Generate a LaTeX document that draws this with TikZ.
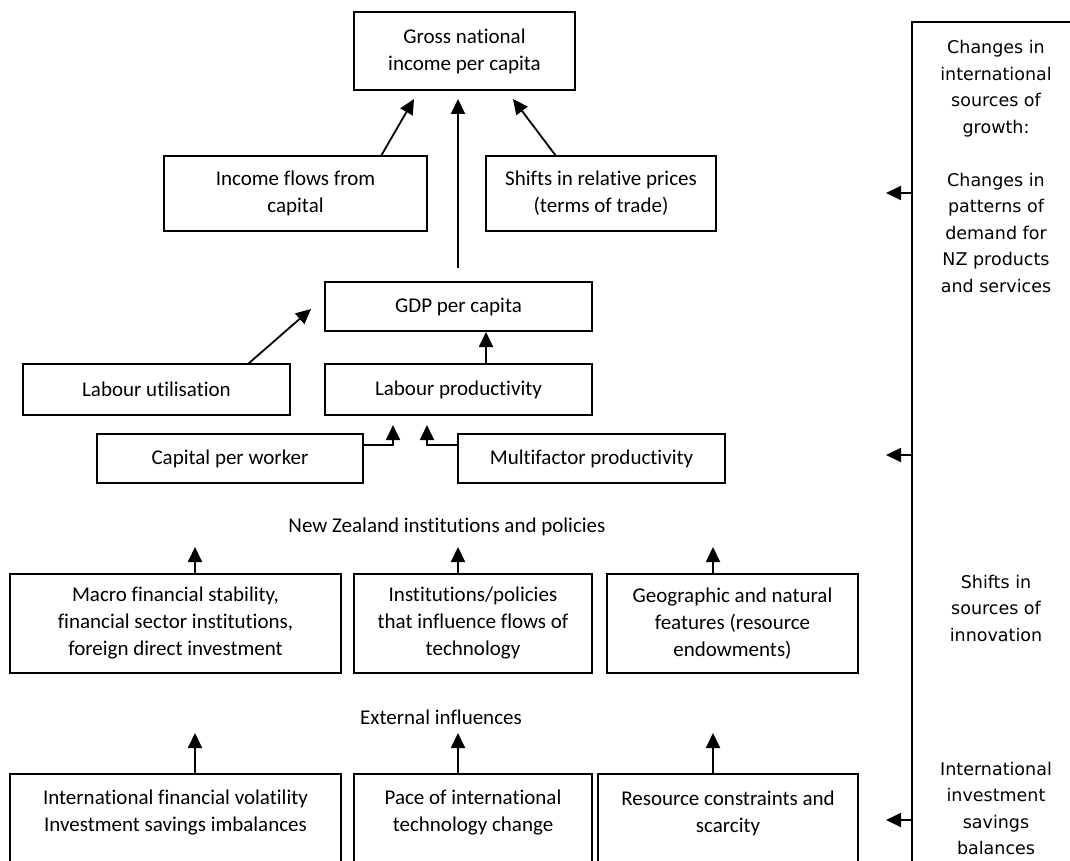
\documentclass[tikz,border=0pt]{standalone}
\usepackage{fontspec}
\setmainfont{Carlito}[Ligatures=NoCommon]
\newfontfamily\vfont{DejaVu Sans}
\usetikzlibrary{arrows.meta}
\begin{document}
\begin{tikzpicture}[x=1pt,y=-1pt,
  box/.style={draw, line width=1.8pt, align=center, inner sep=0pt, font=\fontsize{21}{27}\selectfont},
  txt/.style={align=center, inner sep=0pt, font=\fontsize{21}{27}\selectfont},
  side/.style={align=center, inner sep=0pt, font=\vfont\fontsize{17.5}{26.5}\selectfont},
  arr/.style={line width=1.8pt, -{Triangle[width=14pt,length=15pt]}}]
\useasboundingbox (0,0) rectangle (1070,861);
\clip (0,0) rectangle (1070,861);
% top level
\node[box, minimum width=221, minimum height=78] (gni) at (464.5,51) {Gross national\\income per capita};
\node[box, minimum width=263, minimum height=75] (ifc) at (295.5,193.5) {Income flows from\\capital};
\node[box, minimum width=230, minimum height=75] (sir) at (601,193.5) {Shifts in relative prices\\(terms of trade)};
\node[box, minimum width=267, minimum height=49] (gdp) at (458.5,306.5) {GDP per capita};
\node[box, minimum width=267, minimum height=51] (lu) at (156.5,389.5) {Labour utilisation};
\node[box, minimum width=267, minimum height=51] (lp) at (458.5,389.5) {Labour productivity};
\node[box, minimum width=266, minimum height=49] (cpw) at (230,458.5) {Capital per worker};
\node[box, minimum width=267, minimum height=49] (mfp) at (591.5,458.5) {Multifactor productivity};
\node[txt] (nz) at (447,527) {New Zealand institutions and policies};
\node[box, minimum width=331, minimum height=99] (mac) at (175.5,623.5) {Macro financial stability,\\financial sector institutions,\\foreign direct investment};
\node[box, minimum width=238, minimum height=99] (inst) at (473,623.5) {Institutions/policies\\that influence flows of\\technology};
\node[box, minimum width=251, minimum height=99] (geo) at (732.5,623.5) {Geographic and natural\\features (resource\\endowments)};
\node[txt] (ext) at (441,717) {External influences};
\node[box, minimum width=331, minimum height=146] (intl) at (175.5,847) {};
\node[box, minimum width=238, minimum height=146] (pace) at (473,847) {};
\node[box, minimum width=260, minimum height=146] (res) at (728,847) {};
\node[txt] (intlt) at (175.5,813) {International financial volatility\\Investment savings imbalances};
\node[txt] (pacet) at (473,813) {Pace of international\\technology change};
\node[txt] (rest) at (728,813) {Resource constraints and\\scarcity};
% right panel
\node[draw, line width=1.8pt, minimum width=210, minimum height=900, inner sep=0pt] (panel) at (1017,472) {};
\node[side] (s1) at (996,166.5) {Changes in\\international\\sources of\\growth:\\[26.5pt]Changes in\\patterns of\\demand for\\NZ products\\and services};
\node[side] (s2) at (996,608) {Shifts in\\sources of\\innovation};
\node[side] (s3) at (996,808.5) {International\\investment\\savings\\balances};
% coordinates for connectors
\coordinate (a1b) at (381,156); \coordinate (a1t) at (414,99);
\coordinate (a2b) at (458,268); \coordinate (a2t) at (458,99);
\coordinate (a3b) at (556,156); \coordinate (a3t) at (513,99);
\coordinate (a4b) at (248,364); \coordinate (a4t) at (311,309);
\coordinate (a5b) at (486,364); \coordinate (a5t) at (486,332);
\coordinate (c1b) at (363,445); \coordinate (c1t) at (393,425);
\coordinate (c2b) at (458,445); \coordinate (c2t) at (427,425);
\foreach \x/\n in {195/m1,458/m2,713/m3}{
  \coordinate (\n b) at (\x,574); \coordinate (\n t) at (\x,547);
  \coordinate (\n B) at (\x,774); \coordinate (\n T) at (\x,733);
}
\foreach \y/\n in {193/p1,455/p2,820/p3}{
  \coordinate (\n b) at (912,\y); \coordinate (\n t) at (886,\y);
}
\draw[arr] (a1b) -- (a1t);
\draw[arr] (a2b) -- (a2t);
\draw[arr] (a3b) -- (a3t);
\draw[arr] (a4b) -- (a4t);
\draw[arr] (a5b) -- (a5t);
\draw[arr] (c1b) -| (c1t);
\draw[arr] (c2b) -| (c2t);
\foreach \n in {m1,m2,m3}{
  \draw[arr] (\n b) -- (\n t);
  \draw[arr] (\n B) -- (\n T);
}
\foreach \n in {p1,p2,p3}{
  \draw[arr] (\n b) -- (\n t);
}
\end{tikzpicture}
\end{document}
